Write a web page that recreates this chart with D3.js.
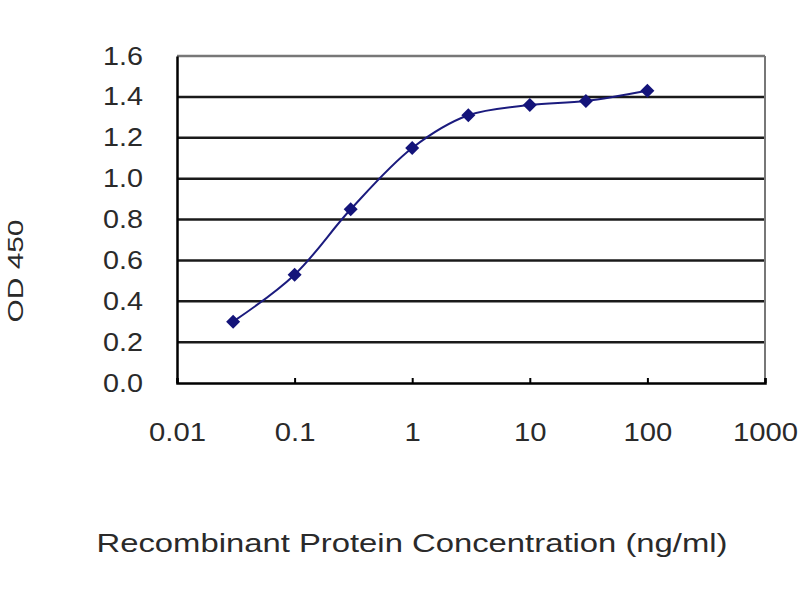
<!DOCTYPE html>
<html><head><meta charset="utf-8">
<script src="https://cdn.jsdelivr.net/npm/d3@7"></script>
<style>body{margin:0;background:#fff}</style>
</head><body><svg id="c" width="800" height="600"></svg>
<script>
const concentrations = [0.03, 0.1, 0.3, 1, 3, 10, 30, 100];
const odValues = [0.30, 0.53, 0.85, 1.15, 1.31, 1.36, 1.38, 1.43];
const xTicks = [0.01, 0.1, 1, 10, 100, 1000];
const xTickLabels = ["0.01", "0.1", "1", "10", "100", "1000"];
const yTicks = [0.0, 0.2, 0.4, 0.6, 0.8, 1.0, 1.2, 1.4, 1.6];
const xTitle = "Recombinant Protein Concentration (ng/ml)";
const yTitle = "OD 450";

const svg = d3.select("#c");
const L = 177, R = 765, T = 56, B = 383;
const x = d3.scaleLog().domain([0.01, 1000]).range([L, R]);
const y = d3.scaleLinear().domain([0, 1.6]).range([B, T]);
const font = "'Liberation Sans', Arial, sans-serif";

function stretch(sel, f) {
  sel.each(function(){ const w = this.getComputedTextLength(); d3.select(this).attr("textLength", w * f).attr("lengthAdjust", "spacingAndGlyphs"); });
}

svg.append("rect").attr("x", L).attr("y", T).attr("width", R - L).attr("height", B - T).attr("fill", "#fff");

// gridlines
svg.append("g").selectAll("line").data(yTicks.filter(v => v > 0 && v < 1.6)).join("line")
  .attr("x1", L).attr("x2", R).attr("y1", d => y(d)).attr("y2", d => y(d))
  .attr("stroke", "#1a1a1a").attr("stroke-width", 2.5);
// top & right border gray
svg.append("line").attr("x1", L).attr("x2", R).attr("y1", y(1.6)).attr("y2", y(1.6)).attr("stroke", "#777").attr("stroke-width", 2.5);
svg.append("line").attr("x1", R).attr("x2", R).attr("y1", T).attr("y2", B).attr("stroke", "#777").attr("stroke-width", 2);

// axes
const yAxis = d3.axisLeft(y).tickValues(yTicks).tickSize(0).tickFormat(d3.format(".1f")).tickPadding(34);
const gy = svg.append("g").attr("transform", `translate(${L},0)`).call(yAxis);
gy.select(".domain").attr("stroke", "#000").attr("stroke-width", 2.5);
gy.selectAll("text").attr("font-family", font).attr("font-size", 25).attr("fill", "#2a2a2a").call(stretch, 1.15);

const xAxis = d3.axisBottom(x).tickValues(xTicks).tickSize(-5).tickFormat((d, i) => xTickLabels[i]).tickPadding(40);
const gx = svg.append("g").attr("transform", `translate(0,${B})`).call(xAxis);
gx.select(".domain").attr("stroke", "#000").attr("stroke-width", 2.5);
gx.selectAll(".tick line").attr("stroke", "#000").attr("stroke-width", 2);
gx.selectAll("text").attr("font-family", font).attr("font-size", 25).attr("fill", "#2a2a2a").attr("dy", "0.32em").attr("y", 50).call(stretch, 1.17);

// line
const line = d3.line().x((d, i) => x(concentrations[i])).y(d => y(d)).curve(d3.curveCatmullRom.alpha(0.5));
svg.append("path").datum(odValues).attr("d", line).attr("fill", "none").attr("stroke", "#1b1b7e").attr("stroke-width", 2);

// markers
const dsize = 7;
svg.append("g").selectAll("path").data(odValues).join("path")
  .attr("transform", (d, i) => `translate(${x(concentrations[i])},${y(d)})`)
  .attr("d", `M0,${-dsize}L${dsize},0L0,${dsize}L${-dsize},0Z`)
  .attr("fill", "#14147a");

// titles
svg.append("text").attr("x", 412).attr("y", 543).attr("text-anchor", "middle").attr("dominant-baseline", "central")
  .attr("font-family", font).attr("font-size", 25).attr("fill", "#2a2a2a").text(xTitle).attr("textLength", 631).attr("lengthAdjust", "spacingAndGlyphs");
svg.append("text").attr("transform", "translate(15,271) rotate(-90)").attr("text-anchor", "middle").attr("dominant-baseline", "central")
  .attr("font-family", font).attr("font-size", 22).attr("fill", "#2a2a2a").text(yTitle).attr("textLength", 103).attr("lengthAdjust", "spacingAndGlyphs");
</script></body></html>
